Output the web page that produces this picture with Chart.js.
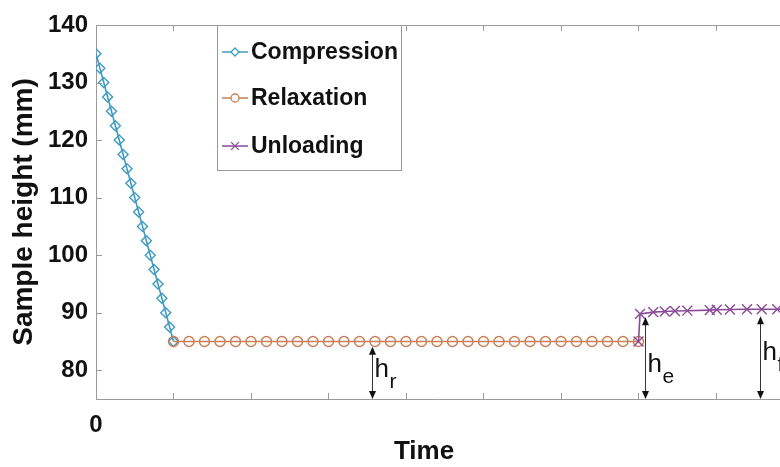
<!DOCTYPE html>
<html>
<head>
<meta charset="utf-8">
<script src="https://cdn.jsdelivr.net/npm/chart.js@4.4.1/dist/chart.umd.min.js"></script>
<style>
  html, body { margin: 0; padding: 0; background: #ffffff; }
  #wrap { width: 780px; height: 467px; }
</style>
</head>
<body>
<div id="wrap"><canvas id="chart" width="780" height="467"></canvas></div>
<script>
// Compression stage: sample squeezed from 135 mm down to 85 mm
const compressionTime = [0, 0.05, 0.1, 0.15, 0.2, 0.25, 0.3, 0.35, 0.4, 0.45, 0.5,
  0.55, 0.6, 0.65, 0.7, 0.75, 0.8, 0.85, 0.9, 0.95, 1.0];
const compressionHeight = [135, 132.5, 130, 127.5, 125, 122.5, 120, 117.5, 115, 112.5, 110,
  107.5, 105, 102.5, 100, 97.5, 95, 92.5, 90, 87.5, 85];

// Relaxation stage: height held constant
const relaxationTime = [1.0, 1.2, 1.4, 1.6, 1.8, 2.0, 2.2, 2.4, 2.6, 2.8, 3.0,
  3.2, 3.4, 3.6, 3.8, 4.0, 4.2, 4.4, 4.6, 4.8, 5.0,
  5.2, 5.4, 5.6, 5.8, 6.0, 6.2, 6.4, 6.6, 6.8, 7.0];
const relaxationHeight = [85, 85, 85, 85, 85, 85, 85, 85, 85, 85, 85,
  85, 85, 85, 85, 85, 85, 85, 85, 85, 85,
  85, 85, 85, 85, 85, 85, 85, 85, 85, 85];

// Unloading stage: elastic spring-back then slow recovery
const unloadingTime = [7.0, 7.02, 7.19, 7.34, 7.47, 7.63, 7.92, 8.01, 8.18, 8.4, 8.59, 8.79, 8.98];
const unloadingHeight = [85, 89.8, 90.1, 90.2, 90.3, 90.35, 90.45, 90.5, 90.55, 90.6, 90.6, 90.6, 90.6];

const xTicks = [0, 1, 2, 3, 4, 5, 6, 7, 8];
const xTickLabels = ['0', '', '', '', '', '', '', '', ''];
const yTicks = [80, 90, 100, 110, 120, 130, 140];

// height markers: [letter, subscript, time, arrow top, label baseline]
const heightMarks = [
  ['h', 'r', 3.56, 84.1, 78.8],
  ['h', 'e', 7.08, 89.2, 79.7],
  ['h', 'f', 8.57, 89.4, 81.7]
];

const seriesNames = ['Compression', 'Relaxation', 'Unloading'];
const seriesColors = ['#3f9bc1', '#c97e55', '#8b4a98'];
const seriesMarkers = ['rectRot', 'circle', 'crossRot'];
const markerSizes = [5, 5, 7];

const FONT = '"Liberation Sans", Arial, Helvetica, sans-serif';
const AXIS_GREY = '#9a9a9a';
const INK = '#111111';

const toPoints = (xs, ys) => xs.map((x, i) => ({ x: x, y: ys[i] }));

const makeSet = (i, xs, ys, order) => ({
  label: seriesNames[i],
  data: toPoints(xs, ys),
  borderColor: seriesColors[i],
  borderWidth: 1.6,
  pointStyle: seriesMarkers[i],
  pointRadius: markerSizes[i],
  pointBorderWidth: 1.4,
  pointBorderColor: seriesColors[i],
  pointBackgroundColor: 'rgba(255,255,255,0)',
  showLine: true,
  fill: false,
  tension: 0,
  order: order
});

const arrowHead = (ctx, x, y, dir) => {
  ctx.beginPath();
  ctx.moveTo(x, y);
  ctx.lineTo(x - 3.5, y + dir * 8);
  ctx.lineTo(x + 3.5, y + dir * 8);
  ctx.closePath();
  ctx.fill();
};

const decorations = {
  id: 'decorations',
  afterDatasetsDraw(chart) {
    const { ctx, chartArea: a, scales: { x, y } } = chart;
    ctx.save();

    // top frame line and inward ticks
    ctx.strokeStyle = AXIS_GREY;
    ctx.lineWidth = 1;
    ctx.beginPath();
    ctx.moveTo(a.left, a.top + 0.5);
    ctx.lineTo(a.right, a.top + 0.5);
    xTicks.forEach(v => {
      const px = Math.round(x.getPixelForValue(v)) + 0.5;
      ctx.moveTo(px, a.bottom);
      ctx.lineTo(px, a.bottom - 6);
      ctx.moveTo(px, a.top);
      ctx.lineTo(px, a.top + 6);
    });
    yTicks.forEach(v => {
      const py = Math.round(y.getPixelForValue(v)) + 0.5;
      ctx.moveTo(a.left, py);
      ctx.lineTo(a.left + 6, py);
    });
    ctx.stroke();

    // double arrows with height labels
    ctx.strokeStyle = '#333333';
    ctx.fillStyle = INK;
    ctx.lineWidth = 1;
    heightMarks.forEach(([main, sub, t, h, base]) => {
      const px = Math.round(x.getPixelForValue(t)) + 0.5;
      const top = y.getPixelForValue(h);
      const bot = a.bottom;
      const by = y.getPixelForValue(base);
      ctx.beginPath();
      ctx.moveTo(px, top + 4);
      ctx.lineTo(px, bot - 4);
      ctx.stroke();
      arrowHead(ctx, px, top, 1);
      arrowHead(ctx, px, bot, -1);
      ctx.textAlign = 'left';
      ctx.textBaseline = 'alphabetic';
      ctx.font = '26px ' + FONT;
      ctx.fillText(main, px + 2, by);
      ctx.font = '21px ' + FONT;
      ctx.fillText(sub, px + 17, by + 11);
    });

    // x axis title
    ctx.fillStyle = INK;
    ctx.font = 'bold 26px ' + FONT;
    ctx.textAlign = 'center';
    ctx.textBaseline = 'middle';
    ctx.fillText('Time', 424, 452);

    // legend box
    const lx = 217, ly = a.top, lw = 184, lh = 145;
    ctx.fillStyle = '#ffffff';
    ctx.fillRect(lx, ly, lw, lh);
    ctx.strokeStyle = AXIS_GREY;
    ctx.lineWidth = 1;
    ctx.strokeRect(lx + 0.5, ly + 0.5, lw, lh);
    const rows = [52, 98, 146];
    chart.data.datasets.forEach((ds, i) => {
      const cy = rows[i];
      ctx.strokeStyle = ds.borderColor;
      ctx.lineWidth = 1.5;
      ctx.beginPath();
      ctx.moveTo(222, cy);
      ctx.lineTo(248, cy);
      ctx.stroke();
      ctx.fillStyle = '#ffffff';
      ctx.lineWidth = 1.3;
      Chart.helpers.drawPoint(ctx, { pointStyle: ds.pointStyle, radius: i === 2 ? 5.5 : 4, rotation: 0, borderWidth: 1.3 }, 235, cy);
      ctx.fillStyle = INK;
      ctx.font = 'bold 23px ' + FONT;
      ctx.textAlign = 'left';
      ctx.textBaseline = 'middle';
      ctx.fillText(ds.label, 251, cy + 1);
    });

    ctx.restore();
  }
};

new Chart(document.getElementById('chart'), {
  type: 'line',
  data: {
    datasets: [
      makeSet(0, compressionTime, compressionHeight, 3),
      makeSet(1, relaxationTime, relaxationHeight, 2),
      makeSet(2, unloadingTime, unloadingHeight, 1)
    ]
  },
  options: {
    responsive: false,
    animation: false,
    devicePixelRatio: 1,
    layout: { autoPadding: false, padding: { top: 25, right: 0, bottom: 0, left: 0 } },
    plugins: {
      legend: { display: false },
      tooltip: { enabled: false }
    },
    scales: {
      x: {
        type: 'linear',
        min: 0,
        max: 8.826,
        afterBuildTicks: s => { s.ticks = xTicks.map(v => ({ value: v })); },
        afterFit: s => { s.height = 68; },
        grid: { display: false, drawTicks: false },
        border: { display: true, color: AXIS_GREY, width: 1 },
        ticks: {
          autoSkip: false,
          maxRotation: 0,
          padding: 12,
          color: INK,
          font: { family: FONT, size: 24, weight: 'bold' },
          callback: (v, i) => xTickLabels[i]
        }
      },
      y: {
        min: 75,
        max: 140,
        afterBuildTicks: s => { s.ticks = yTicks.map(v => ({ value: v })); },
        afterFit: s => { s.width = 96; },
        grid: { display: false, drawTicks: false },
        border: { display: true, color: AXIS_GREY, width: 1 },
        ticks: {
          padding: 8,
          color: INK,
          font: { family: FONT, size: 24, weight: 'bold' }
        },
        title: {
          display: true,
          text: 'Sample height (mm)',
          color: INK,
          padding: { top: 7, bottom: 0 },
          font: { family: FONT, size: 28, weight: 'bold' }
        }
      }
    }
  },
  plugins: [decorations]
});
</script>
</body>
</html>
